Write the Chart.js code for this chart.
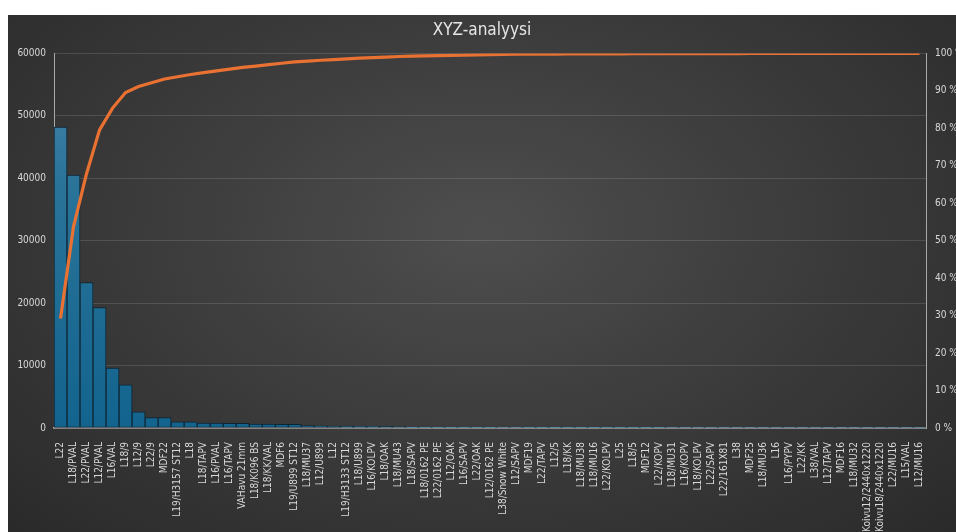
<!DOCTYPE html>
<html>
<head>
<meta charset="utf-8">
<title>XYZ-analyysi</title>
<script src="https://cdn.jsdelivr.net/npm/chart.js@4/dist/chart.umd.min.js"></script>
<style>
    html, body {
        margin: 0;
        padding: 0;
        background: #ffffff;
        overflow: hidden;
    }
    .chart-box {
        position: absolute;
        left: 8px;
        top: 15px;
        width: 948px;
        height: 517px;
        background: radial-gradient(ellipse at 50% 42%, #4e4e4e 0%, #3d3d3d 45%, #2a2a2a 100%);
    }
</style>
</head>
<body>
<div class="chart-box">
    <canvas id="paretoChart"></canvas>
</div>
<script>
// Categories (material codes), in Pareto order
const categories = [
    'L22', 'L18/PVAL', 'L22/PVAL', 'L12/PVAL', 'L16/VAL', 'L18/9', 'L12/9', 'L22/9', 'MDF22',
    'L19/H3157 ST12', 'L18', 'L18/TAPV', 'L16/PVAL', 'L16/TAPV', 'VAHavu 21mm', 'L18/K096 BS',
    'L18/KK/VAL', 'MDF6', 'L19/U899 ST12', 'L18/MU37', 'L12/U899', 'L12', 'L19/H3133 ST12',
    'L18/U899', 'L16/KOLPV', 'L18/OAK', 'L18/MU43', 'L18/SAPV', 'L18/0162 PE', 'L22/0162 PE',
    'L12/OAK', 'L16/SAPV', 'L22/OAK', 'L12/0162 PE', 'L38/Snow White', 'L12/SAPV', 'MDF19',
    'L22/TAPV', 'L12/5', 'L18/KK', 'L18/MU38', 'L18/MU16', 'L22/KOLPV', 'L25', 'L18/5', 'MDF12',
    'L22/KOPV', 'L18/MU31', 'L16/KOPV', 'L18/KOLPV', 'L22/SAPV', 'L22/161X81', 'L38', 'MDF25',
    'L18/MU36', 'L16', 'L16/PYPV', 'L22/KK', 'L38/VAL', 'L12/TAPV', 'MDF16', 'L18/MU32',
    'VAKoivu12/2440x1220', 'VAKoivu18/2440x1220', 'L22/MU16', 'L15/VAL', 'L12/MU16'
];

// Bar values (estimated for the tiny tail)
const quantities = [
    48200, 40500, 23300, 19300, 9600, 6900, 2600, 1650, 1650,
    1000, 1000, 800, 800, 750, 750, 620,
    620, 600, 600, 380, 350, 320, 300,
    280, 260, 250, 240, 140, 130, 120,
    110, 110, 100, 100, 90, 90, 40,
    30, 28, 26, 24, 22, 20, 19, 18, 16,
    15, 14, 12, 12, 10, 10, 9, 8,
    7, 6, 6, 5, 5, 4, 4, 3,
    3, 2, 2, 2, 1
];

// Axis ticks
const leftTicks = [0, 10000, 20000, 30000, 40000, 50000, 60000];
const rightTicks = [0, 10, 20, 30, 40, 50, 60, 70, 80, 90, 100];

// Cumulative share in percent (Pareto line)
const total = quantities.reduce((a, b) => a + b, 0);
let running = 0;
const cumulativePct = quantities.map(v => {
    running += v;
    return running / total * 100;
});

const textColor = '#d9d9d9';
const fontFamily = "'Liberation Sans Narrow', 'DejaVu Sans Condensed', 'Roboto', sans-serif";

// Bar fill: lighter at the top, darker towards the baseline
function barFill(context) {
    const chart = context.chart;
    const area = chart.chartArea;
    if (!area) return '#1a6a93';
    const g = chart.ctx.createLinearGradient(0, area.top, 0, area.bottom);
    g.addColorStop(0, '#4a86ad');
    g.addColorStop(0.35, '#2a7399');
    g.addColorStop(1, '#12648e');
    return g;
}

const ctx = document.getElementById('paretoChart');
new Chart(ctx, {
    data: {
        labels: categories,
        datasets: [{
            type: 'line',
            label: 'Kumulatiivinen %',
            data: cumulativePct,
            yAxisID: 'y1',
            borderColor: '#e97132',
            borderWidth: 3.2,
            pointRadius: 0,
            tension: 0,
            order: 0
        }, {
            type: 'bar',
            label: 'Määrä',
            data: quantities,
            yAxisID: 'y',
            backgroundColor: barFill,
            borderColor: '#0e2433',
            borderWidth: 1,
            borderSkipped: false,
            categoryPercentage: 1.0,
            barPercentage: 1.0,
            order: 1
        }]
    },
    options: {
        responsive: true,
        maintainAspectRatio: false,
        animation: false,
        plugins: {
            legend: { display: false },
            tooltip: { enabled: false },
            title: {
                display: true,
                text: 'XYZ-analyysi',
                color: '#e6e6e6',
                font: { family: fontFamily, size: 17, weight: 'normal' },
                padding: { top: 5, bottom: 13 }
            }
        },
        scales: {
            x: {
                grid: { display: false },
                border: { color: '#b5b5b5', width: 1.5 },
                ticks: {
                    color: textColor,
                    font: { family: fontFamily, size: 10 },
                    autoSkip: false,
                    minRotation: 90,
                    maxRotation: 90,
                    padding: 6
                },
                afterFit: (scale) => { scale.height = 104; }
            },
            y: {
                position: 'left',
                min: 0,
                max: 60000,
                afterBuildTicks: (scale) => { scale.ticks = leftTicks.map(v => ({ value: v })); },
                grid: { color: 'rgba(255,255,255,0.13)', drawTicks: false },
                border: { color: '#a8a8a8', width: 1 },
                ticks: {
                    color: textColor,
                    font: { family: fontFamily, size: 10 },
                    padding: 8,
                    callback: (v) => String(v)
                },
                afterFit: (scale) => { scale.width = 46; }
            },
            y1: {
                position: 'right',
                min: 0,
                max: 100,
                afterBuildTicks: (scale) => { scale.ticks = rightTicks.map(v => ({ value: v })); },
                grid: { display: false, drawTicks: false },
                border: { color: '#a8a8a8', width: 1 },
                ticks: {
                    color: textColor,
                    font: { family: fontFamily, size: 10 },
                    padding: 9,
                    callback: (v) => v + ' %'
                },
                afterFit: (scale) => { scale.width = 30; }
            }
        }
    }
});
</script>
</body>
</html>
